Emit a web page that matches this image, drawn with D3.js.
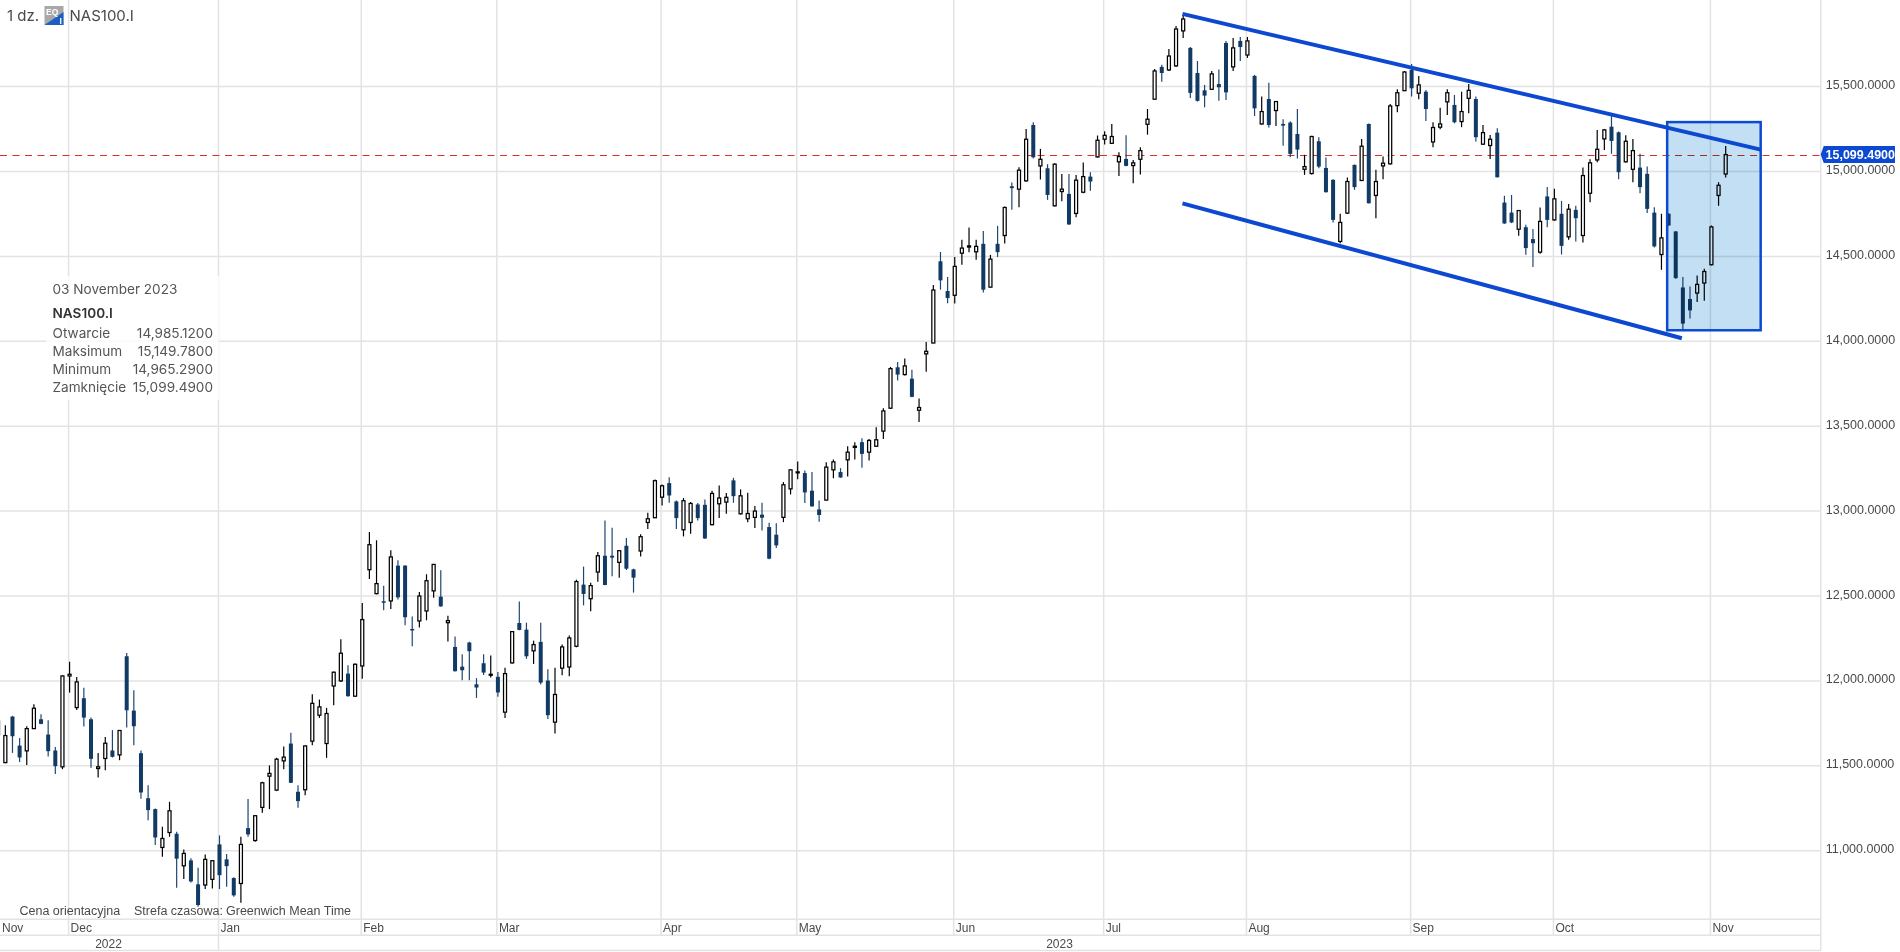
<!DOCTYPE html>
<html>
<head>
<meta charset="utf-8">
<style>
  html, body { margin: 0; padding: 0; background: #fff; overflow: hidden; }
  svg { display: block; }
</style>
<script src="https://cdn.jsdelivr.net/npm/d3@7"></script>
</head>
<body>
<div id="chart"></div>
<script>
const opens = [
11768,11519,11790,11619,11588,11719,11774,11684,11590,11494,
12029,11843,11898,11774,11484,11543,11590,11564,12145,11825,
11574,11309,11245,11019,11107,11100,10911,10943,10802,10798,
10831,11037,10949,10839,10807,11133,11060,11255,11439,11357,
11529,11631,11347,11359,11645,11798,11631,11970,12000,12043,
11910,12088,12655,12514,12469,12471,12679,12679,12306,12353,
12412,12530,12496,12343,12200,12084,12226,11980,12104,12033,
12024,11816,12106,12341,12302,12177,12230,12002,11757,12075,
12082,12204,12567,12484,12641,12737,12737,12698,12796,12657,
12765,12933,12961,13082,13165,13057,12890,12933,13039,13037,
12920,13043,13053,13181,12984,12955,12963,12979,12906,12861,
12963,13131,13226,13224,13120,13010,13065,13243,13230,13302,
13375,13406,13347,13382,13471,13606,13847,13804,13780,13594,
13926,13990,14471,14296,14271,14519,14555,14527,14574,14319,
14574,14623,14913,14896,14945,15274,15033,15019,14798,14882,
14868,14753,14878,14970,15086,15190,15166,15057,15074,15035,
15072,15278,15426,15616,15598,15622,15828,15728,15580,15478,
15484,15515,15757,15616,15769,15686,15563,15280,15427,15359,
15280,15288,15221,15013,14988,15178,15021,14951,14588,14755,
15039,14947,15280,14859,15033,15045,15388,15476,15598,15461,
15470,15174,15261,15410,15392,15294,15431,15427,15161,15153,
15229,14817,14758,14660,14672,14602,14525,14853,14715,14751,
14615,14774,14623,14872,15068,15192,15264,15231,15057,15013,
15023,14986,14758,14511,14751,14647,14317,14249,14284,14343,
14451,14859,14985.12];

const highs = [
11794,11739,11794,11664,11733,11862,11804,11768,11611,12033,
12113,12023,11959,11784,11576,11670,11710,11710,12164,11945,
11590,11386,11249,11141,11288,11111,11007,10955,10900,10978,
10945,11090,10980,10843,11082,11304,11208,11406,11502,11547,
11613,11694,11386,11619,11921,11890,11841,12055,12245,12092,
12102,12459,12877,12828,12561,12769,12710,12681,12379,12524,
12628,12688,12651,12384,12261,12157,12230,12016,12157,12149,
12053,12077,12294,12467,12343,12237,12343,12069,12077,12214,
12267,12596,12673,12578,12759,12945,12902,12769,12841,12661,
12863,12990,13186,13157,13200,13063,13077,13053,13047,13069,
13120,13151,13106,13196,13128,13108,13030,13049,12931,12929,
13171,13245,13292,13239,13231,13063,13288,13304,13253,13382,
13406,13429,13425,13494,13606,13849,13878,13898,13833,13663,
13996,14331,14526,14379,14496,14598,14670,14598,14649,14509,
14680,14794,14935,15025,15251,15290,15133,15043,15049,14986,
14986,14980,15053,14996,15212,15237,15280,15113,15213,15068,
15143,15368,15604,15628,15722,15857,15922,15733,15651,15510,
15592,15600,15769,15786,15792,15792,15569,15441,15523,15415,
15308,15296,15368,15098,15210,15202,15082,14955,14751,14964,
15041,15192,15282,15010,15088,15398,15484,15592,15633,15563,
15480,15290,15376,15484,15451,15470,15515,15441,15274,15215,
15255,14857,14862,14772,14686,14662,14788,14908,14898,14827,
14808,14798,15023,15072,15245,15251,15337,15235,15213,15192,
15104,15029,14790,14751,14755,14649,14378,14323,14388,14427,
14682,14937,15149.78];

const lows = [
11674,11515,11576,11523,11504,11717,11745,11555,11451,11480,
11931,11829,11731,11488,11431,11474,11549,11533,11725,11621,
11306,11180,11033,10964,11082,10782,10833,10813,10670,10774,
10778,10774,10788,10729,10694,11082,11053,11223,11245,11351,
11480,11398,11253,11327,11621,11782,11547,11857,11994,11906,
11906,12012,12600,12510,12416,12424,12479,12328,12204,12314,
12357,12490,12437,12232,12055,12004,12004,11900,12035,12020,
11906,11781,12102,12298,12130,12100,11979,11775,11690,12033,
12028,12198,12445,12410,12584,12563,12616,12608,12653,12520,
12733,12894,12959,13033,13049,12894,12851,12867,12945,12835,
12916,12959,12984,13049,12980,12935,12900,12886,12716,12782,
12935,13098,13188,13047,13026,12937,13063,13194,13196,13204,
13304,13255,13298,13380,13424,13602,13769,13798,13671,13525,
13820,13988,14304,14224,14222,14451,14525,14480,14288,14317,
14496,14576,14774,14790,14939,15076,14953,14833,14794,14825,
14686,14731,14872,14886,15082,15159,15164,14974,15031,14931,
14982,15217,15424,15528,15592,15616,15786,15433,15412,15378,
15480,15417,15421,15592,15651,15669,15327,15276,15259,15268,
15151,15084,15076,14980,14982,15019,14876,14700,14578,14749,
14892,14945,14811,14725,14955,15041,15349,15474,15441,15425,
15298,15143,15249,15333,15284,15261,15343,15176,15157,15074,
14964,14692,14696,14621,14509,14437,14515,14672,14710,14511,
14598,14588,14582,14819,15055,15127,15104,14955,15053,14937,
14872,14755,14553,14421,14680,14368,14068,14135,14231,14239,
14447,14798,14965.29];

const closes = [
11680,11678,11674,11549,11719,11839,11747,11586,11498,12029,
12039,11994,11784,11541,11494,11633,11553,11708,11827,11733,
11343,11239,11078,11072,11235,10953,10984,10819,10680,10949,
10941,10856,10909,10737,11037,11096,11206,11400,11455,11539,
11551,11400,11292,11617,11868,11847,11808,12051,12163,11910,
12098,12361,12802,12573,12463,12730,12492,12375,12300,12500,
12590,12686,12439,12355,12057,12063,12175,11961,12049,12039,
11932,12043,12290,12300,12145,12214,11990,11798,11920,12200,
12253,12585,12512,12561,12737,12565,12726,12767,12661,12608,
12849,12955,13179,13149,13092,12959,13061,13045,12959,12839,
13104,13077,13081,13088,13090,12986,13000,12961,12720,12798,
13155,13243,13231,13110,13028,12977,13259,13290,13198,13347,
13382,13337,13416,13420,13590,13839,13804,13855,13673,13610,
13941,14302,14359,14255,14441,14549,14562,14559,14304,14484,
14525,14788,14902,15008,15190,15084,15072,14862,15043,14896,
14688,14949,14970,14941,15184,15213,15206,15088,15033,15051,
15123,15308,15592,15580,15680,15839,15898,15463,15416,15447,
15575,15496,15466,15728,15733,15769,15372,15353,15274,15412,
15270,15104,15129,15029,15206,15029,14878,14715,14700,14941,
14908,15149,14813,14941,15049,15386,15464,15586,15490,15510,
15368,15259,15280,15464,15290,15353,15478,15202,15229,15190,
14966,14694,14700,14770,14549,14578,14706,14715,14839,14562,
14778,14725,14976,15051,15131,15245,15180,14996,15178,15123,
14908,14780,14559,14609,14682,14372,14104,14182,14335,14411,
14674,14919,15099.49];

const priceTicks = [11000, 11500, 12000, 12500, 13000, 13500, 14000, 14500, 15000, 15500];

// first candle of each month on the axis
const monthNames = ['Dec', 'Jan', 'Feb', 'Mar', 'Apr', 'May', 'Jun', 'Jul', 'Aug', 'Sep', 'Oct', 'Nov'];
const monthStarts = [10, 31, 51, 70, 93, 112, 134, 155, 175, 198, 218, 240];

// drawn objects on the chart, in candle index and price
const upperLineIdx = [165.9, 246.9], upperLinePrice = [15928, 15129];
const lowerLineIdx = [165.9, 235.85], lowerLinePrice = [14812, 14018];
const boxIdx = [233.8, 246.9], boxPrice = [15291, 14065];

const infoLabels = ['Otwarcie', 'Maksimum', 'Minimum', 'Zamknięcie'];

const candles = opens.map((o, i) => ({ i, o, h: highs[i], l: lows[i], c: closes[i] }));
const last = candles[candles.length - 1];

const W = 1900, H = 952;
const axisX = 1820.7;
const monthTop = 919.3, yearTop = 935.3, bottomY = 950.5;
const uiFont = 'Inter, sans-serif';
const axisFont = '"Liberation Sans", Arial, sans-serif';
const textCol = '#4a4a4a', gridCol = '#e3e3e3';

const svg = d3.select('#chart').append('svg').attr('width', W).attr('height', H);

const x = d3.scaleLinear().domain([0, 242]).range([-1.8, 1725.7]);
const y = d3.scaleLinear().domain([11000, 15500]).range([850.7, 86.6]);
const price = d3.format(',.4f');

// grid
svg.append('g').selectAll('line').data(priceTicks).enter().append('line')
    .attr('x1', 0).attr('x2', axisX)
    .attr('y1', d => y(d)).attr('y2', d => y(d))
    .attr('stroke', gridCol).attr('stroke-width', 1.5);

svg.append('g').selectAll('line').data(monthStarts).enter().append('line')
    .attr('x1', d => x(d) - 1).attr('x2', d => x(d) - 1)
    .attr('y1', 0).attr('y2', yearTop)
    .attr('stroke', gridCol).attr('stroke-width', 1.5);

// frame of the time axis
[monthTop, yearTop, bottomY].forEach(v => {
    svg.append('line').attr('x1', 0).attr('x2', axisX).attr('y1', v).attr('y2', v)
        .attr('stroke', gridCol).attr('stroke-width', 1.5);
});
svg.append('line').attr('x1', axisX).attr('x2', axisX).attr('y1', 0).attr('y2', bottomY)
    .attr('stroke', gridCol).attr('stroke-width', 1.5);
svg.append('line').attr('x1', x(31) - 1).attr('x2', x(31) - 1).attr('y1', yearTop).attr('y2', bottomY)
    .attr('stroke', gridCol).attr('stroke-width', 1.5);

// info panel goes under the candles but over the grid
svg.append('rect').attr('x', 46).attr('y', 276).attr('width', 173).attr('height', 124)
    .attr('fill', '#fff').attr('opacity', 0.8);

// current price line
svg.append('line').attr('x1', 0).attr('x2', axisX)
    .attr('y1', Math.round(y(last.c)) + 0.5).attr('y2', Math.round(y(last.c)) + 0.5)
    .attr('stroke', '#dc2f28').attr('stroke-width', 1)
    .attr('stroke-dasharray', '7,5.5');

// candles
const candle = svg.append('g').selectAll('g').data(candles).enter().append('g');

candle.append('line')
    .attr('x1', d => x(d.i)).attr('x2', d => x(d.i))
    .attr('y1', d => y(d.h)).attr('y2', d => y(d.l))
    .attr('stroke', d => d.c < d.o ? '#1f4670' : '#000')
    .attr('stroke-width', 1.2);

candle.filter(d => d.c < d.o).append('rect')
    .attr('x', d => x(d.i) - 2).attr('width', 4)
    .attr('y', d => y(d.o))
    .attr('height', d => Math.max(y(d.c) - y(d.o), 1.5))
    .attr('fill', '#113a64');

candle.filter(d => d.c >= d.o).append('rect')
    .attr('x', d => x(d.i) - 1.5).attr('width', 3)
    .attr('y', d => y(d.c))
    .attr('height', d => Math.max(y(d.o) - y(d.c), 1))
    .attr('fill', '#fff').attr('stroke', '#000').attr('stroke-width', 1.25);

// highlighted box and the channel lines
svg.append('rect')
    .attr('x', x(boxIdx[0])).attr('width', x(boxIdx[1]) - x(boxIdx[0]))
    .attr('y', y(boxPrice[0])).attr('height', y(boxPrice[1]) - y(boxPrice[0]))
    .attr('fill', '#c2dff3').style('mix-blend-mode', 'multiply');
svg.append('rect')
    .attr('x', x(boxIdx[0])).attr('width', x(boxIdx[1]) - x(boxIdx[0]))
    .attr('y', y(boxPrice[0])).attr('height', y(boxPrice[1]) - y(boxPrice[0]))
    .attr('fill', 'none').attr('stroke', '#0c4ad2').attr('stroke-width', 2.5);

const channel = d3.line().x(d => x(d[0])).y(d => y(d[1]));
[[upperLineIdx, upperLinePrice], [lowerLineIdx, lowerLinePrice]].forEach(([a, b]) => {
    svg.append('path')
        .attr('d', channel(a.map((v, k) => [v, b[k]])))
        .attr('fill', 'none').attr('stroke', '#0c48d0').attr('stroke-width', 4);
});

// price axis
const yAxis = svg.append('g')
    .attr('transform', `translate(${axisX},-2)`)
    .call(d3.axisRight(y).tickValues(priceTicks).tickFormat(price).tickSize(0).tickPadding(5));
yAxis.select('.domain').remove();
yAxis.selectAll('text')
    .attr('fill', textCol).attr('font-family', axisFont).attr('font-size', 12.5);

// current price tag
const tagY = y(last.c);
svg.append('path')
    .attr('d', d3.line()([[axisX, tagY], [axisX + 3, tagY - 8.5], [1895, tagY - 8.5], [1895, tagY + 8.5], [axisX + 3, tagY + 8.5]]) + 'Z')
    .attr('fill', '#0c48d0');
svg.append('text').attr('x', 1825.5).attr('y', tagY + 4.3)
    .attr('fill', '#fff').attr('font-family', axisFont).attr('font-size', 12.5).attr('font-weight', 700)
    .text(price(last.c));

// time axis
svg.append('g').selectAll('text').data(monthNames).enter().append('text')
    .attr('x', (d, i) => x(monthStarts[i]) + 1)
    .attr('y', 931.5)
    .attr('fill', textCol).attr('font-family', axisFont).attr('font-size', 12)
    .text(d => d);
svg.append('text').attr('x', 2).attr('y', 931.5)
    .attr('fill', textCol).attr('font-family', axisFont).attr('font-size', 12).text('Nov');
svg.append('text').attr('x', 108.5).attr('y', 947.5).attr('text-anchor', 'middle')
    .attr('fill', textCol).attr('font-family', axisFont).attr('font-size', 12).text('2022');
svg.append('text').attr('x', 1059.5).attr('y', 947.5).attr('text-anchor', 'middle')
    .attr('fill', textCol).attr('font-family', axisFont).attr('font-size', 12).text('2023');

// footnotes
[['Cena orientacyjna', 19.5], ['Strefa czasowa:', 134], ['Greenwich Mean Time', 226]].forEach(([t, tx]) => {
    svg.append('text').attr('x', tx).attr('y', 915)
        .attr('fill', textCol).attr('font-family', axisFont).attr('font-size', 12.5).text(t);
});

// header
svg.append('text').attr('x', 7).attr('y', 20.5)
    .attr('fill', textCol).attr('font-family', uiFont).attr('font-size', 15).text('1 dz.');
svg.append('rect').attr('x', 44.5).attr('y', 6).attr('width', 19).attr('height', 19).attr('fill', '#a8a8a8');
svg.append('path').attr('d', d3.line()([[44.5, 25], [63.5, 12], [63.5, 25]]) + 'Z').attr('fill', '#1c5fc4');
svg.append('text').attr('x', 46).attr('y', 15)
    .attr('fill', '#fff').attr('font-family', axisFont).attr('font-size', 8.5).attr('font-weight', 700).text('EQ');
svg.append('text').attr('x', 59.5).attr('y', 24)
    .attr('fill', '#fff').attr('font-family', axisFont).attr('font-size', 8.5).attr('font-weight', 700).text('I');
svg.append('text').attr('x', 69.5).attr('y', 20.5)
    .attr('fill', textCol).attr('font-family', uiFont).attr('font-size', 15).text('NAS100.I');

// info panel texts
svg.append('text').attr('x', 52.5).attr('y', 294)
    .attr('fill', '#555').attr('font-family', uiFont).attr('font-size', 13.6).text('03 November 2023');
svg.append('text').attr('x', 52.5).attr('y', 317.5)
    .attr('fill', '#333').attr('font-family', uiFont).attr('font-size', 13.6).attr('font-weight', 600).text('NAS100.I');

const infoValues = [last.o, last.h, last.l, last.c];
const rowY = d3.scalePoint().domain(infoLabels).range([338, 392]);
infoLabels.forEach((label, k) => {
    svg.append('text').attr('x', 52.5).attr('y', rowY(label))
        .attr('fill', '#555').attr('font-family', uiFont).attr('font-size', 13.6).text(label);
    svg.append('text').attr('x', 213).attr('y', rowY(label)).attr('text-anchor', 'end')
        .attr('fill', '#555').attr('font-family', uiFont).attr('font-size', 13.6).text(price(infoValues[k]));
});
</script>
</body>
</html>
